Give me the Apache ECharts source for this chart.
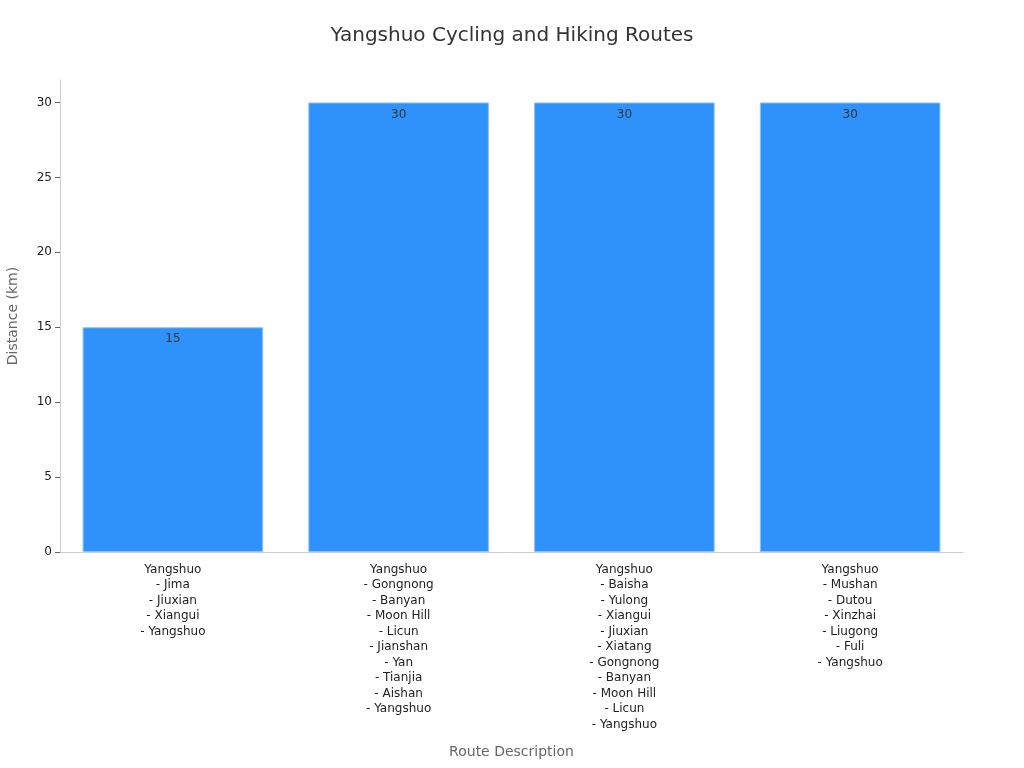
<!DOCTYPE html>
<html>
<head>
<meta charset="utf-8">
<script src="https://cdn.jsdelivr.net/npm/echarts@6/dist/echarts.min.js"></script>
<style>
  html, body { margin: 0; padding: 0; background: #fff; }
  #main { width: 1024px; height: 768px; }
</style>
</head>
<body>
<div id="main"></div>
<script>
// route names, one stop per line
var routes = [
    'Yangshuo\n- Jima\n- Jiuxian\n- Xiangui\n- Yangshuo',
    'Yangshuo\n- Gongnong\n- Banyan\n- Moon Hill\n- Licun\n- Jianshan\n- Yan\n- Tianjia\n- Aishan\n- Yangshuo',
    'Yangshuo\n- Baisha\n- Yulong\n- Xiangui\n- Jiuxian\n- Xiatang\n- Gongnong\n- Banyan\n- Moon Hill\n- Licun\n- Yangshuo',
    'Yangshuo\n- Mushan\n- Dutou\n- Xinzhai\n- Liugong\n- Fuli\n- Yangshuo'
];
var distances = [15, 30, 30, 30];
var yTicks = [0, 5, 10, 15, 20, 25, 30];

var font = 'DejaVu Sans';

var option = {
    title: {
        text: 'Yangshuo Cycling and Hiking Routes',
        left: 'center',
        top: 21,
        textStyle: {
            fontFamily: font,
            fontSize: 20,
            fontWeight: 'normal',
            color: '#333'
        }
    },
    grid: {
        left: 60,
        right: 61,
        top: 80,
        bottom: 216,
        outerBoundsMode: 'none',
        containLabel: false
    },
    xAxis: {
        type: 'category',
        data: routes,
        name: 'Route Description',
        nameLocation: 'middle',
        nameGap: 193,
        nameTextStyle: {
            fontFamily: font,
            fontSize: 14,
            color: '#666'
        },
        axisLine: {
            lineStyle: { color: '#ccc' }
        },
        axisTick: {
            alignWithLabel: true,
            lineStyle: { color: '#666' }
        },
        axisLabel: {
            interval: 0,
            fontFamily: font,
            fontSize: 12,
            color: '#222',
            lineHeight: 15.5,
            margin: 10
        }
    },
    yAxis: {
        type: 'value',
        min: 0,
        max: 31.5,
        name: 'Distance (km)',
        nameLocation: 'middle',
        nameGap: 40,
        nameTextStyle: {
            fontFamily: font,
            fontSize: 14,
            color: '#666'
        },
        axisLine: {
            show: true,
            lineStyle: { color: '#ccc' }
        },
        axisTick: {
            show: true,
            customValues: yTicks,
            lineStyle: { color: '#666' }
        },
        axisLabel: {
            customValues: yTicks,
            fontFamily: font,
            fontSize: 12,
            color: '#222'
        },
        splitLine: { show: false }
    },
    series: [
        {
            name: 'Distance',
            type: 'bar',
            data: distances,
            barCategoryGap: '20%',
            itemStyle: {
                color: '#2f91fa',
                borderColor: '#8cc2fc',
                borderWidth: 1
            },
            label: {
                show: true,
                position: 'insideTop',
                distance: 6,
                fontFamily: font,
                fontSize: 12,
                color: '#333'
            }
        }
    ]
};

var myChart = echarts.init(document.getElementById('main'));
myChart.setOption(option);
</script>
</body>
</html>
